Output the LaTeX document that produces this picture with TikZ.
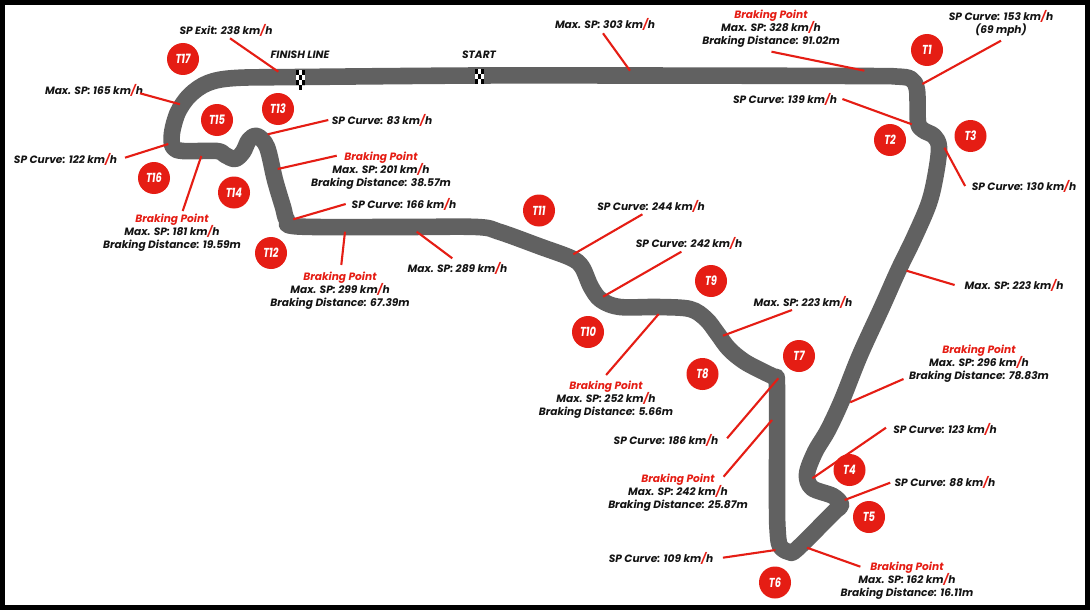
\documentclass[tikz,border=0pt]{standalone}
\usepackage{fontspec}
\setmainfont{Poppins}
\newfontfamily\turnfont[FakeStretch=.76]{Poppins}
\usepackage{xcolor}
\definecolor{trackred}{HTML}{E51D14}
\definecolor{trackgray}{HTML}{616161}
\definecolor{labelblack}{HTML}{141414}
\def\kmh#1{#1 km{\color{trackred}/}h}
\def\brk#1#2{{\color{trackred}Braking Point}\\Max. SP: \kmh{#1}\\Braking Distance: #2m}
\tikzset{
 lbl/.style={font=\fontsize{10.6}{13}\selectfont\bfseries\itshape,text=labelblack,align=center,inner sep=0pt,yshift=-1pt},
 turn/.style={circle,fill=trackred,minimum size=32pt,inner sep=0pt,text=white,font=\turnfont\fontsize{13}{13}\selectfont\bfseries\itshape},
 lead/.style={draw=trackred,line width=2.1pt},
 track/.style={draw=trackgray,line width=16.6pt,line join=round}
}
\begin{document}
\begin{tikzpicture}[x=1pt,y=-1pt]
\useasboundingbox (0,0) rectangle (1090,610);
\fill[black] (0,0) rectangle (1090,610);
\fill[white] (5,5) rectangle (1085,605);

%%%%%track starts here
\draw[track] plot[smooth cycle,tension=.55] coordinates {
 (300,77) (478,75.5) (630,75.5) (860,76) (896,76.5) (911,79) (917,90) (918,122) (923,130) (934,136)
 (939,147) (936,173) (929,203) (914,238) (898.5,270) (882,307) (860,355) (842,400) (828,430) (815,452)
 (807,474) (812,488) (833,496) (841,505) (833,513) (797,549) (789,552) (780,546) (777.6,530) (777,500)
 (777,388) (775,378) (766,373) (745,362) (729,349) (717,333) (706,319) (690,309) (658,307)
 (620,307) (601,300) (591,287) (582,267) (571,258) (540,246.5) (500,232) (477,227) (400,227)
 (298,226.5) (287,220) (283,207) (275,180) (267,147) (257,136) (249,140) (243,152) (235,159) (225,155) (217,151)
 (183,151) (173,147) (172,133) (178,112) (190,95) (208,83) (235,78)};
%%%%%track ends here

% start and finish line
\foreach \xc/\yc in {296/70,296/80,299/75,299/85,302/70,302/80,475/69,475/79,478/74,481/69,481/79}
 \fill[black] (\xc,\yc) rectangle +(3,5);
\foreach \xc/\yc in {296/75,299/70,299/80,302/75,475/74,478/69,478/79,481/74}
 \fill[white] (\xc,\yc) rectangle +(3,5);

\foreach \n/\xc/\yc in {1/927/50,2/890/140,3/970.5/136,4/849.5/470,5/869/517,6/775/582.5,
 7/799/356,8/702.5/374,9/711/281,10/588/332,11/539/210.5,12/271/253,13/278/109,14/234/192.5,
 15/217/120,16/154/178,17/183/59}
 \node[turn] (t\n) at (\xc,\yc) {T\n};

\node[lbl] (finish) at (300,54) {FINISH LINE};
\node[lbl] (start) at (479,54) {START};

\node[lbl] (exit) at (226,29) {SP Exit: \kmh{238}};
\node[lbl] (max165) at (94,89) {Max. SP: \kmh{165}};
\node[lbl] (sp122) at (65.5,158) {SP Curve: \kmh{122}};
\node[lbl] (bp181) at (172,232) {\brk{181}{19.59}};
\node[lbl] (sp83) at (382,119) {SP Curve: \kmh{83}};
\node[lbl] (bp201) at (381,170) {\brk{201}{38.57}};
\node[lbl] (sp166) at (404,203) {SP Curve: \kmh{166}};
\node[lbl] (bp299) at (340,290) {\brk{299}{67.39}};
\node[lbl] (max289) at (457.5,267) {Max. SP: \kmh{289}};
\node[lbl] (max303) at (605,23) {Max. SP: \kmh{303}};
\node[lbl] (bp328) at (771,28) {\brk{328}{91.02}};
\node[lbl] (sp153) at (1001,22.5) {SP Curve: \kmh{153}\\(69 mph)};
\node[lbl] (sp139) at (785,98) {SP Curve: \kmh{139}};
\node[lbl] (sp130) at (1024,185) {SP Curve: \kmh{130}};
\node[lbl] (max223a) at (1014,284) {Max. SP: \kmh{223}};
\node[lbl] (sp244) at (651,205) {SP Curve: \kmh{244}};
\node[lbl] (sp242) at (689,242) {SP Curve: \kmh{242}};
\node[lbl] (max223b) at (803,301) {Max. SP: \kmh{223}};
\node[lbl] (bp252) at (606,399) {\brk{252}{5.66}};
\node[lbl] (sp186) at (666,439) {SP Curve: \kmh{186}};
\node[lbl] (bp242) at (678,492) {\brk{242}{25.87}};
\node[lbl] (sp109) at (661,557) {SP Curve: \kmh{109}};
\node[lbl] (bp162) at (907,580) {\brk{162}{16.11}};
\node[lbl] (sp88) at (945,481) {SP Curve: \kmh{88}};
\node[lbl] (sp123) at (945,428) {SP Curve: \kmh{123}};
\node[lbl] (bp296) at (979,363) {\brk{296}{78.83}};

% leader lines, free end / end on the track
\foreach \nm/\xa/\ya/\xb/\yb in {
 exit/230/38.3/278.3/71.7, max165/140/93.3/180/104.3, sp122/125/157.7/168.3/144,
 bp181/182.7/211/201.3/156, sp83/328.3/120/267.7/134.3, bp201/336.7/155.7/277.7/169,
 sp166/345.7/204/293.3/219.3, bp299/341.3/265/345/231.7, max289/452.3/258.3/416.7/231.7,
 max303/603/33.3/630/70.7, bp328/771.5/51.7/864.4/70.7, sp153/1001/40.7/922.3/84,
 sp139/842.4/99/911.8/124.3, sp130/965.1/186/944.4/147.7, max223a/954.6/285/906.5/270.7,
 sp244/642.4/214.3/573.3/254.3, sp242/681.4/251.7/603.1/296.7, max223b/792/310/722.9/335.7,
 bp252/606.1/375/658.7/314, sp186/727.1/438.3/778.3/378.3, bp242/723.6/476.7/772/420,
 sp109/722.9/557.7/775.5/550, bp162/860.4/566.7/807/547.7, sp88/890.2/482.7/844.6/500,
 sp123/886/427.7/812.4/478.3, bp296/903.5/379/850.2/402.3}
{
 \coordinate (\nm a) at (\xa,\ya);
 \coordinate (\nm b) at (\xb,\yb);
 \draw[lead] (\nm a) -- (\nm b);
}
\end{tikzpicture}
\end{document}
